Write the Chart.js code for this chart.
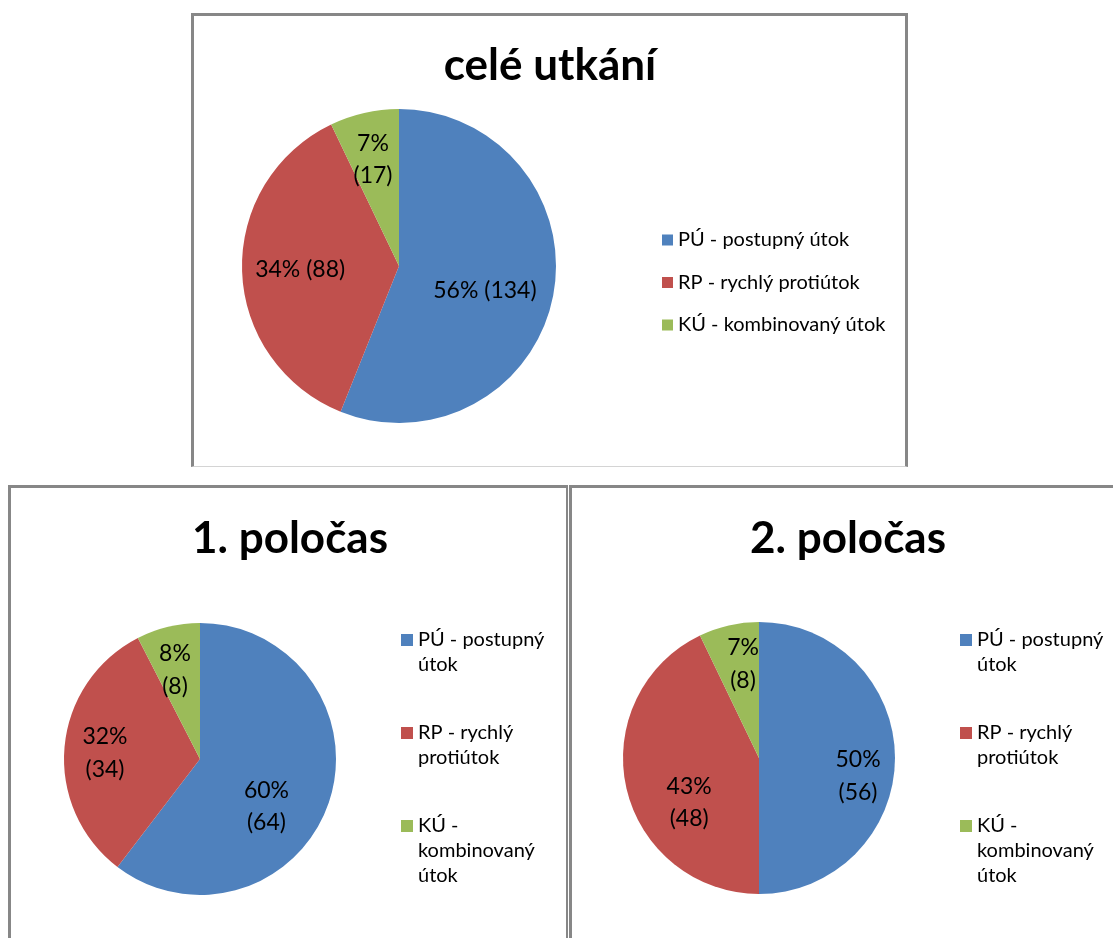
<!DOCTYPE html>
<html><head><meta charset="utf-8">
<script src="https://cdn.jsdelivr.net/npm/chart.js@4.4.1/dist/chart.umd.min.js"></script>
<style>
body{margin:0;background:#fff;width:1113px;height:938px;overflow:hidden;position:relative}
.box{position:absolute;box-sizing:border-box;border:3px solid #878787;background:#fff}
canvas{position:absolute;left:0;top:0}
</style></head><body>
<div class="box" style="left:191px;top:13px;width:717px;height:454px;border-bottom:1px solid #d4d4d4"><canvas id="c0" width="711" height="450"></canvas></div>
<div class="box" style="left:8px;top:485px;width:560px;height:460px;border-right-width:2px;border-bottom:none"><canvas id="c1" width="555" height="450"></canvas></div>
<div class="box" style="left:569px;top:485px;width:550px;height:460px;border-right:none;border-bottom:none"><canvas id="c2" width="541" height="450"></canvas></div>
<script>
const categories = ["PÚ - postupný útok", "RP - rychlý protiútok", "KÚ - kombinovaný útok"];
const chartTitles = ["celé utkání", "1. poločas", "2. poločas"];
const valuesWhole = [134, 88, 17];
const valuesHalf1 = [64, 34, 8];
const valuesHalf2 = [56, 48, 8];
const pctWhole = ["56%", "34%", "7%"];
const pctHalf1 = ["60%", "32%", "8%"];
const pctHalf2 = ["50%", "43%", "7%"];
const colors = ["#4F81BD", "#C0504D", "#9BBB59"];

function wrap(ctx, text, maxW) {
  const words = text.split(' ');
  const lines = [];
  let cur = '';
  for (const w of words) {
    const t = cur ? cur + ' ' + w : w;
    if (cur && ctx.measureText(t).width > maxW) { lines.push(cur); cur = w; }
    else cur = t;
  }
  if (cur) lines.push(cur);
  return lines;
}

const overlay = {
  id: 'overlay',
  afterDraw(chart, args, o) {
    const ctx = chart.ctx;
    ctx.save();
    ctx.fillStyle = '#000';
    ctx.font = 'bold 44px Lato';
    ctx.textAlign = 'center';
    ctx.textBaseline = 'alphabetic';
    ctx.fillText(o.title, o.titleX, o.titleY);

    const ds = chart.data.datasets[0];
    ctx.font = '20px Lato';
    ctx.textAlign = 'left';
    ctx.textBaseline = 'middle';
    let y = o.legendY;
    chart.data.labels.forEach((lab, i) => {
      const lines = wrap(ctx, lab, o.legendMaxW);
      ctx.fillStyle = ds.backgroundColor[i];
      ctx.fillRect(o.legendX, y - o.box / 2, o.box, o.box);
      ctx.fillStyle = '#000';
      lines.forEach((ln, k) => ctx.fillText(ln, o.legendTextX, y + k * o.legendLine));
      y += lines.length * o.legendLine + o.legendGap;
    });

    const meta = chart.getDatasetMeta(0);
    ctx.font = o.labelFont;
    ctx.textAlign = 'center';
    meta.data.forEach((arc, i) => {
      const p = arc.getProps(['x', 'y', 'startAngle', 'endAngle', 'outerRadius'], true);
      const off = o.labelPlace[i][0], f = o.labelPlace[i][1];
      const a = (p.startAngle + p.endAngle) / 2 + off * Math.PI / 180;
      const cx = p.x + Math.cos(a) * f * p.outerRadius;
      const cy = p.y + Math.sin(a) * f * p.outerRadius;
      const lines = o.labelWrap[i]
        ? [o.pct[i], '(' + ds.data[i] + ')']
        : [o.pct[i] + ' (' + ds.data[i] + ')'];
      const n = lines.length;
      lines.forEach((ln, k) => ctx.fillText(ln, cx, cy + (k - (n - 1) / 2) * o.labelLine));
    });
    ctx.restore();
  }
};

function makePie(id, values, pct, title, pad, ov) {
  new Chart(document.getElementById(id), {
    type: 'pie',
    data: {
      labels: categories,
      datasets: [{ data: values, backgroundColor: colors, borderWidth: 0, hoverOffset: 0, offset: 0 }]
    },
    options: {
      responsive: false,
      animation: false,
      devicePixelRatio: 1,
      layout: { padding: pad },
      plugins: {
        legend: { display: false },
        title: { display: false },
        tooltip: { enabled: false },
        overlay: Object.assign({ title: title, pct: pct }, ov)
      }
    },
    plugins: [overlay]
  });
}

makePie('c0', valuesWhole, pctWhole, chartTitles[0],
  { left: 48, top: 93, right: 349, bottom: 43 },
  { titleX: 356, titleY: 64, legendX: 468, legendTextX: 484, legendY: 224, box: 11,
    legendMaxW: 1000, legendLine: 25, legendGap: 17.5,
    labelFont: '23px Lato', labelLine: 32,
    labelWrap: [false, false, true],
    labelPlace: [[5.3, 0.57], [-0.4, 0.63], [-0.9, 0.70]] });

makePie('c1', valuesHalf1, pctHalf1, chartTitles[1],
  { left: 53, top: 135, right: 230, bottom: 43 },
  { titleX: 279, titleY: 65, legendX: 390, legendTextX: 407, legendY: 152, box: 12,
    legendMaxW: 135, legendLine: 25, legendGap: 43,
    labelFont: '23px Lato', labelLine: 32.5,
    labelWrap: [true, true, true],
    labelPlace: [[16.8, 0.60], [-1.5, 0.70], [-2.1, 0.68]] });

makePie('c2', valuesHalf2, pctHalf2, chartTitles[2],
  { left: 51, top: 134, right: 218, bottom: 44 },
  { titleX: 276, titleY: 65, legendX: 388, legendTextX: 405, legendY: 152, box: 12,
    legendMaxW: 135, legendLine: 25, legendGap: 43,
    labelFont: '23px Lato', labelLine: 32.5,
    labelWrap: [true, true, true],
    labelPlace: [[10.3, 0.74], [-19.8, 0.61], [3.2, 0.70]] });
</script>
</body></html>
